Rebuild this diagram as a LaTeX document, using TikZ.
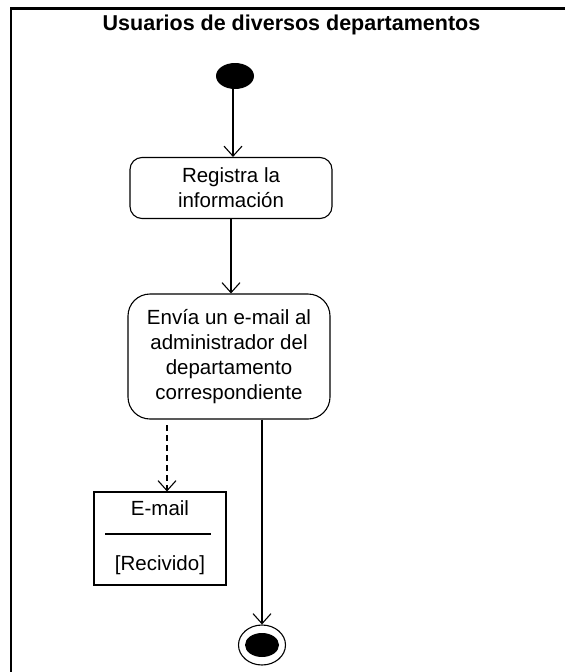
\documentclass[tikz,border=0pt]{standalone}
\usepackage{fontspec}
\setmainfont{Liberation Sans}
\usetikzlibrary{arrows.meta,calc,shapes.geometric}
\begin{document}
\begin{tikzpicture}[x=1pt,y=-1pt,
  every node/.style={font=\fontsize{20.5}{25}\selectfont},
  activity/.style={draw,line width=1.1pt,align=center,inner sep=0pt},
  flow/.style={line width=1.1pt,-{Straight Barb[length=10pt,width=18pt,line width=1.1pt]}},
  depflow/.style={flow,dash pattern=on 6pt off 4pt},
  objbox/.style={draw,line width=1.1pt,inner sep=0pt},
  plain/.style={inner sep=0pt}]
\useasboundingbox (0,0) rectangle (565,672);

% swimlane frame
\draw[line width=2.6pt] (11,672) -- (11,8.5) -- (565,8.5);
\node[plain,anchor=base,font=\bfseries\fontsize{21.5}{26}\selectfont] (lane) at (291.5,30) {Usuarios de diversos departamentos};

% initial state
\node[fill,ellipse,minimum width=38pt,minimum height=26pt,inner sep=0pt] (start) at (235,76) {};

% activities
\node[activity,minimum width=202pt,minimum height=61pt,rounded corners=12pt] (reg) at (231,188) {Registra la\\información};
\node[activity,minimum width=202pt,minimum height=125pt,rounded corners=22pt] (send) at (229,356.5) {Envía un e-mail al\\administrador del\\departamento\\correspondiente};

% object node
\node[objbox,minimum width=132pt,minimum height=93pt] (mail) at (160,538.5) {};
\node[plain] (mailname) at (160,508) {E-mail};
\node[plain] (mailstate) at (160,565) {[Recivido]};
\coordinate (sep) at (160,534);
\draw[line width=1.1pt] ($(mail.west |- sep)+(12,0)$) -- ($(mail.east |- sep)+(-16,0)$);

% final state
\node[draw,ellipse,line width=1.1pt,minimum width=47pt,minimum height=40pt,inner sep=0pt] (end) at (262,645) {};
\node[fill,ellipse,minimum width=34pt,minimum height=24pt,inner sep=0pt] (endcore) at (end.center) {};

% transitions
\draw[flow] (start.south -| 233,0) -- (reg.north -| 233,0);
\draw[flow] (reg.south -| 231,0) -- (send.north -| 231,0);
\coordinate (dashtop) at (167,425);
\draw[depflow] (dashtop) -- (dashtop |- mail.north);
\draw[flow] (send.south -| end.north) -- (end.north);
\end{tikzpicture}
\end{document}
